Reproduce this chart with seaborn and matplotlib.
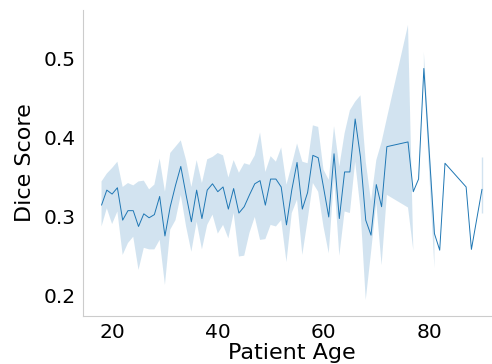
import numpy as np
import pandas as pd
import matplotlib
matplotlib.use("Agg")
import matplotlib.pyplot as plt
import seaborn as sns

nan = np.nan

# mean dice score per patient age, with the 95% CI band
ages = [18, 19, 20, 21, 22, 23, 24, 25, 26, 27, 28, 29, 30, 31, 32, 33, 34, 35,
        36, 37, 38, 39, 40, 41, 42, 43, 44, 45, 46, 47, 48, 49, 50, 51, 52, 53,
        54, 55, 56, 57, 58, 59, 60, 61, 62, 63, 64, 65, 66, 67, 68, 69, 70, 71,
        72, 76, 77, 78, 79, 81, 82, 83, 87, 88, 90]
dice_mean = [0.315, 0.334, 0.329, 0.337, 0.296, 0.308, 0.308, 0.288, 0.304, 0.299,
             0.303, 0.326, 0.276, 0.313, 0.340, 0.364, 0.328, 0.294, 0.334, 0.298,
             0.334, 0.342, 0.332, 0.338, 0.310, 0.336, 0.305, 0.313, 0.328, 0.342,
             0.346, 0.315, 0.348, 0.348, 0.338, 0.290, 0.334, 0.369, 0.310, 0.331,
             0.378, 0.375, 0.338, 0.300, 0.380, 0.298, 0.357, 0.357, 0.424, 0.376,
             0.296, 0.277, 0.341, 0.313, 0.389, 0.395, 0.332, 0.348, 0.488, 0.279,
             0.258, 0.368, 0.338, 0.259, 0.335]
ci_low = [0.288, 0.311, 0.291, 0.307, 0.252, 0.267, 0.275, 0.233, 0.261, 0.259,
          0.259, 0.271, 0.214, 0.284, 0.296, 0.328, 0.288, 0.256, 0.294, 0.259,
          0.290, 0.303, 0.279, 0.290, 0.273, 0.305, 0.250, 0.251, 0.280, 0.300,
          0.271, 0.272, 0.290, 0.288, 0.296, 0.243, 0.305, 0.322, 0.252, 0.296,
          0.343, 0.332, 0.288, 0.254, 0.350, 0.251, 0.307, 0.305, 0.370, 0.310,
          0.195, 0.255, 0.318, 0.239, 0.328, 0.312, 0.258, nan, 0.480, 0.235,
          nan, nan, nan, nan, 0.305]
ci_high = [0.345, 0.355, 0.362, 0.370, 0.338, 0.343, 0.340, 0.345, 0.346, 0.335,
           0.341, 0.374, 0.332, 0.381, 0.389, 0.397, 0.372, 0.338, 0.372, 0.343,
           0.373, 0.376, 0.381, 0.378, 0.350, 0.372, 0.356, 0.368, 0.366, 0.378,
           0.407, 0.357, 0.377, 0.370, 0.388, 0.341, 0.366, 0.393, 0.370, 0.368,
           0.416, 0.414, 0.360, 0.347, 0.415, 0.364, 0.406, 0.435, 0.446, 0.454,
           0.370, 0.320, 0.372, 0.395, 0.425, 0.543, 0.260, nan, 0.509, 0.288,
           nan, nan, nan, nan, 0.376]

df = pd.DataFrame({"age": ages, "dice": dice_mean, "lo": ci_low, "hi": ci_high})

sns.set_style("white")
plt.rcParams["text.color"] = "black"
plt.rcParams["axes.labelcolor"] = "black"
plt.rcParams["xtick.color"] = "black"
plt.rcParams["ytick.color"] = "black"
color = sns.color_palette()[0]

fig = plt.figure(figsize=(4.92, 3.64), dpi=100)
ax = fig.add_axes([0.1677, 0.1319, 0.8506, 0.8407])

sns.lineplot(data=df, x="age", y="dice", color=color, linewidth=0.7, ax=ax)
ax.fill_between(df["age"], df["lo"], df["hi"], color=color, alpha=0.2, linewidth=0)

# single-point bands (no neighbours) only show up as a thin vertical stroke
has_ci = df["lo"].notna()
lonely = has_ci & ~has_ci.shift(1, fill_value=False) & ~has_ci.shift(-1, fill_value=False)
ax.vlines(df.loc[lonely, "age"], df.loc[lonely, "lo"], df.loc[lonely, "hi"],
          color=color, alpha=0.2, linewidth=1)

ax.set_xlim(14.4, 93.6)
ax.set_ylim(0.1747, 0.562)
ax.set_xticks([20, 40, 60, 80])
ax.set_yticks([0.2, 0.3, 0.4, 0.5])
ax.tick_params(labelsize=14.5, length=0, pad=5)
ax.set_xlabel("Patient Age", fontsize=16, labelpad=1)
ax.set_ylabel("Dice Score", fontsize=16, labelpad=6)
sns.despine(ax=ax)
for s in ("left", "bottom"):
    ax.spines[s].set_color("#cccccc")

fig.savefig("out.png", dpi=100)
